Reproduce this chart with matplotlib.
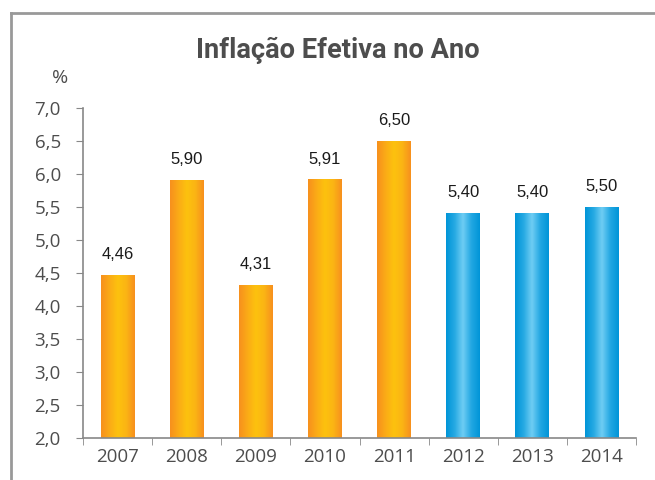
import matplotlib.pyplot as plt
from matplotlib.lines import Line2D
from matplotlib.colors import LinearSegmentedColormap
import numpy as np

anos = ['2007', '2008', '2009', '2010', '2011', '2012', '2013', '2014']
inflacao = [4.46, 5.90, 4.31, 5.91, 6.50, 5.40, 5.40, 5.50]
rotulos = ['4,46', '5,90', '4,31', '5,91', '6,50', '5,40', '5,40', '5,50']
realizado = [True, True, True, True, True, False, False, False]
yticks = [2.0, 2.5, 3.0, 3.5, 4.0, 4.5, 5.0, 5.5, 6.0, 6.5, 7.0]

cinza = '#4d4d4d'
laranja = LinearSegmentedColormap.from_list('lar', ['#f7901e', '#fbab16', '#fdc20e', '#fbb414', '#f7901e'])
azul = LinearSegmentedColormap.from_list('az', ['#0095d8', '#25a9e3', '#6fcdf4', '#22a7e2', '#0095d8'])

fig = plt.figure(figsize=(6.55, 4.8), dpi=100)
ax = fig.add_axes([83 / 655, 42 / 480, 553 / 655, 330 / 480])

x = np.arange(len(anos))
rects = ax.bar(x, inflacao, width=0.49, bottom=0, color='none', edgecolor='none')

grad = np.linspace(0, 1, 100).reshape(1, -1)
for rect, real, lab in zip(rects, realizado, rotulos):
    x0 = rect.get_x()
    w = rect.get_width()
    h = rect.get_height()
    ax.imshow(grad, cmap=laranja if real else azul, aspect='auto',
              extent=(x0, x0 + w, 2.0, h), zorder=2, interpolation='bicubic')
    ax.text(x0 + w / 2, h + 0.2, lab, ha='center', va='bottom',
            fontsize=12, family=['Liberation Sans', 'DejaVu Sans'], color='#1a1a1a')

ax.set_xlim(-0.5, len(anos) - 0.5)
ax.set_ylim(2.0, 7.0)

ax.set_yticks(yticks)
ax.set_yticklabels([('%.1f' % v).replace('.', ',') for v in yticks])
ax.set_xticks(x)
ax.set_xticklabels(anos)
ax.set_xticks(np.arange(-0.5, len(anos)), minor=True)
ax.tick_params(axis='x', which='major', length=0, pad=7)
ax.tick_params(axis='x', which='minor', length=5, color='#888888', direction='out')
ax.tick_params(axis='y', length=5, color='#888888', pad=11)
for lbl in ax.get_xticklabels() + ax.get_yticklabels():
    lbl.set_family(['Open Sans', 'DejaVu Sans'])
    lbl.set_fontsize(13.5)
    lbl.set_color(cinza)

for s in ['top', 'right']:
    ax.spines[s].set_visible(False)
for s in ['left', 'bottom']:
    ax.spines[s].set_color('#888888')
    ax.spines[s].set_linewidth(1.2)

titulo = fig.text(338 / 655, 1 - 58 / 480, 'Inflação Efetiva no Ano', ha='center', va='baseline',
                  fontsize=20, fontweight='bold', color=cinza,
                  family=['Roboto', 'DejaVu Sans'])
# ajusta o tamanho para a largura do original (~283 px)
r = fig.canvas.get_renderer()
larg = titulo.get_window_extent(r).width
titulo.set_fontsize(20 * 283 / larg)

fig.text(60 / 655, 1 - 78 / 480, '%', ha='center', va='center', fontsize=14,
         color=cinza, family=['Open Sans', 'DejaVu Sans'])

# moldura
fig.add_artist(Line2D([10.5 / 655, 1], [1 - 12.5 / 480, 1 - 12.5 / 480], color='#999999', lw=2))
fig.add_artist(Line2D([10.5 / 655, 10.5 / 655], [0, 1 - 12.5 / 480], color='#999999', lw=2))

fig.savefig('out.png', dpi=100)
plt.close()
